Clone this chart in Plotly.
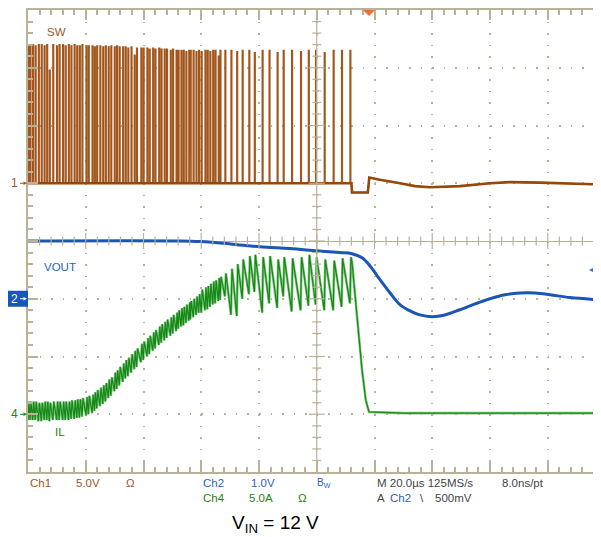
import numpy as np
import plotly.graph_objs as go

# --- scope settings (per division) ---
us_per_div = 20.0
ch1_scale, ch1_pos = 5.0, 1.0     # V/div, marker position in div
ch2_scale, ch2_pos = 1.0, -1.0    # V/div
ch4_scale, ch4_pos = 5.0, -3.0    # A/div
trig_time = 118.1                 # us from left edge
trig_level = 0.5                  # V on Ch2

# --- SW (Ch1) switching pulses, time in us from left edge of screen ---
pulse_t = [0.0, 0.7, 1.6, 2.5, 3.6, 4.6, 5.6, 6.5, 7.4, 8.6,
           9.9, 10.8, 12.0, 12.9, 14.0, 14.9, 16.0, 16.9, 17.8, 18.7,
           20.1, 20.9, 22.2, 23.0, 23.8, 24.9, 25.9, 26.8, 27.8, 28.7,
           29.9, 30.7, 31.6, 32.8, 33.7, 34.6, 35.7, 36.8, 37.6, 39.1,
           39.9, 41.2, 42.0, 43.2, 44.0, 45.3, 46.1, 47.2, 48.0, 49.3,
           50.1, 51.3, 52.0, 53.0, 53.8, 54.7, 55.7, 56.2, 57.2, 58.2,
           59.1, 60.0, 61.3, 62.1, 63.0, 64.0, 64.8, 65.9, 66.5, 68.2,
           70.3, 72.3, 74.2, 76.5, 78.4, 81.1, 83.5, 86.3, 88.4, 91.3,
           94.4, 97.1, 99.6, 102.6, 105.7, 108.6, 111.5]
sw_top = [12.0, 12.0, 12.0, 11.9, 12.0, 12.0, 11.9, 12.0, 9.8, 12.0,
          11.9, 12.0, 12.0, 11.9, 12.0, 11.9, 12.0, 11.9, 11.9, 12.0,
          11.9, 11.9, 11.9, 11.8, 11.9, 11.9, 11.8, 11.9, 11.8, 11.9,
          11.8, 11.9, 11.8, 11.8, 11.8, 11.7, 11.8, 11.1, 11.7, 11.7,
          11.7, 11.7, 11.6, 11.7, 11.6, 11.7, 11.6, 11.6, 11.6, 11.5,
          11.6, 11.5, 11.5, 11.5, 11.5, 11.4, 11.5, 11.5, 11.5, 11.4,
          11.5, 11.4, 11.5, 11.5, 11.4, 11.5, 11.5, 11.0, 11.5, 11.5,
          11.5, 11.4, 11.5, 11.5, 11.3, 11.5, 11.5, 11.3, 11.5, 11.5,
          11.4, 11.5, 11.5, 11.3, 11.5, 11.5, 11.5]
pulse_w = 0.3
sw_tail_t = [112.0, 112.2, 117.7, 118.2, 121.9, 128.8, 134.0, 139.2, 149.6, 160.0, 166.9, 177.3, 187.7, 198.4]
sw_tail_v = [0.0, -0.8, -0.8, 0.5, 0.3, 0.0, -0.25, -0.35, -0.25, 0.0, 0.1, 0.05, -0.05, -0.1]

# --- IL (Ch4), A: valley just before each pulse and peak just after ---
il_valley = [-0.5, -0.5, -0.5, -0.5, -0.6, -0.6, -0.5, -0.5, -0.6, -0.5,
             -0.5, -0.5, -0.5, -0.5, -0.5, -0.4, -0.4, -0.3, -0.3, -0.2,
             -0.1, 0.0, 0.1, 0.3, 0.5, 0.7, 0.9, 1.1, 1.4, 1.6,
             2.0, 2.2, 2.5, 2.8, 3.1, 3.3, 3.6, 3.9, 4.1, 4.5,
             4.7, 5.0, 5.2, 5.5, 5.7, 6.0, 6.2, 6.4, 6.6, 6.8,
             7.0, 7.2, 7.4, 7.6, 7.7, 7.9, 8.1, 8.2, 8.4, 8.6,
             8.8, 8.8, 9.0, 9.1, 9.3, 9.5, 9.6, 9.8, 9.9, 10.2,
             8.6, 8.5, 10.0, 10.4, 10.6, 8.8, 9.6, 9.2, 10.2, 8.9,
             9.0, 9.4, 9.5, 9.0, 9.0, 9.3, 9.6]
il_peak = [1.1, 1.1, 1.1, 1.1, 1.0, 1.0, 1.1, 1.1, 1.0, 1.1,
           1.1, 1.1, 1.1, 1.1, 1.1, 1.2, 1.2, 1.3, 1.3, 1.4,
           1.5, 1.6, 1.7, 1.9, 2.1, 2.3, 2.5, 2.7, 3.0, 3.2,
           3.6, 3.8, 4.1, 4.4, 4.7, 4.9, 5.2, 5.5, 5.7, 6.1,
           6.3, 6.6, 6.8, 7.1, 7.3, 7.6, 7.8, 8.0, 8.2, 8.4,
           8.6, 8.8, 9.0, 9.2, 9.3, 9.5, 9.7, 9.8, 10.0, 10.2,
           10.4, 10.8, 11.0, 11.1, 11.3, 11.5, 11.6, 11.8, 11.9, 12.2,
           12.6, 13.0, 13.4, 13.7, 13.8, 13.6, 13.7, 13.4, 13.6, 13.5,
           13.6, 13.8, 13.6, 13.4, 13.3, 13.5, 13.6]
il_rise = 0.35
il_tail_t = [112.2, 113.2, 114.3, 115.7, 117.0, 118.1, 130.0, 198.4]
il_tail_v = [13.2, 10.3, 7.3, 3.8, 1.2, 0.2, 0.1, 0.1]

# --- VOUT (Ch2), V relative to its marker ---
vout_t = [0.0, 52.6, 59.6, 70.0, 80.4, 90.7, 100.1, 108.0, 112.2, 115.7,
          118.4, 121.9, 125.4, 128.8, 132.3, 135.7, 139.9, 144.4, 149.6, 154.8,
          160.0, 165.2, 170.4, 175.6, 180.8, 187.7, 198.4]
vout_v = [1.00, 1.00, 0.99, 0.95, 0.90, 0.87, 0.83, 0.80, 0.78, 0.71,
          0.57, 0.33, 0.10, -0.10, -0.21, -0.28, -0.31, -0.28, -0.19, -0.09,
          0.00, 0.07, 0.10, 0.10, 0.07, 0.02, -0.02]

# colours
C_SW = "#a2561b"
C_SW_DARK = "#96480a"
C_V = "#1b55b6"
C_V_TXT = "#2a62c0"
C_IL = "#168816"
C_IL_LIGHT = "#86c886"
C_GRID = "#b8b398"
C_TXT = "#454545"

# build waveforms in screen divisions
sw_t, sw_v = [], []
for t, top in zip(pulse_t, sw_top):
    sw_t += [t, t, t + pulse_w, t + pulse_w]
    sw_v += [0.0, top, top, 0.0]
sw_t += sw_tail_t
sw_v += sw_tail_v
sw_div = ch1_pos + np.array(sw_v) / ch1_scale
sw_low_div = ch1_pos + np.array([0.0] + sw_tail_v) / ch1_scale

il_t, il_v = [], []
for t, lo, hi in zip(pulse_t, il_valley, il_peak):
    il_t += [t, t + il_rise]
    il_v += [lo, hi]
il_t += il_tail_t
il_v += il_tail_v
il_div = ch4_pos + np.array(il_v) / ch4_scale

vout_div = ch2_pos + np.array(vout_v) / ch2_scale

fig = go.Figure()
fig.add_trace(go.Scatter(x=sw_t, y=sw_div, mode='lines',
                         line=dict(color=C_SW, width=1.3)))
fig.add_trace(go.Scatter(x=[0.0] + sw_tail_t, y=sw_low_div, mode='lines',
                         line=dict(color=C_SW_DARK, width=2.6)))
fig.add_trace(go.Scatter(x=il_t, y=il_div, mode='lines',
                         line=dict(color=C_IL_LIGHT, width=2.6)))
fig.add_trace(go.Scatter(x=il_t, y=il_div, mode='lines',
                         line=dict(color=C_IL, width=1.2)))
fig.add_trace(go.Scatter(x=vout_t, y=vout_div, mode='lines', line_shape='spline',
                         line=dict(color=C_V, width=3)))

px_per_us = 57.75 / us_per_div
x_end = 573 / px_per_us


# screen pixel -> paper coordinates (plot area spans x 28..601, y 10..472 on screen)
def px(x):
    return (x - 28) / 573


def py(y):
    return (472 - y) / 462


# graticule: center cross with ticks
shapes = [dict(type='line', xref='x', yref='y', x0=5 * us_per_div, x1=5 * us_per_div,
               y0=-4, y1=4, line=dict(color=C_GRID, width=1.2))]
for k in range(1, 50):
    tx = k * us_per_div / 5
    h = 8 if k % 5 == 0 else 4.5
    shapes.append(dict(type='line', xref='x', yref='y', x0=tx, x1=tx,
                       y0=-h / 57.75, y1=h / 57.75, line=dict(color=C_GRID, width=1.2)))
for k in range(-19, 20):
    ty = k / 5
    h = 8 if k % 5 == 0 else 4.5
    shapes.append(dict(type='line', xref='x', yref='y', x0=5 * us_per_div - h / px_per_us,
                       x1=5 * us_per_div + h / px_per_us, y0=ty, y1=ty,
                       line=dict(color=C_GRID, width=1.2)))
# right border major ticks (border itself is just off screen)
for k in range(-3, 4):
    shapes.append(dict(type='line', xref='paper', yref='y', x0=px(594), x1=1,
                       y0=k, y1=k, line=dict(color=C_GRID, width=1.5)))
# trigger position marker
shapes.append(dict(type='path', xref='x', yref='y', xsizemode='pixel', ysizemode='pixel',
                   xanchor=trig_time, yanchor=4, path='M -6,0 L 6,0 L 0,-6 Z',
                   fillcolor='#f36b2a', line=dict(color='#f36b2a', width=0)))
# Ch2 marker box
shapes.append(dict(type='rect', xref='paper', yref='y', x0=px(8), x1=px(28),
                   y0=ch2_pos - 8 / 57.75, y1=ch2_pos + 8 / 57.75,
                   fillcolor="#1a55b8", line=dict(width=0), layer='above'))

FONT = "Liberation Sans, Arial, sans-serif"
ann = []


def label(text, x, y, color, size=11.5, xanchor='left'):
    ann.append(dict(text=text, xref='paper', yref='paper', x=px(x), y=py(y),
                    xanchor=xanchor, yanchor='middle', showarrow=False,
                    font=dict(family=FONT, size=size, color=color)))


def marker(text, ypos, color):
    # channel ground marker: number with a small arrow pointing at the left edge
    ann.append(dict(text=text, xref='paper', yref='y', x=px(27), y=ypos,
                    showarrow=True, ax=-13, ay=0, standoff=0, startstandoff=1,
                    arrowhead=2, arrowsize=0.7, arrowwidth=1, arrowcolor=color,
                    font=dict(family=FONT, size=12, color=color)))


label("SW", 45, 32, C_SW)
label("VOUT", 42, 267, C_V_TXT)
label("IL", 53, 432, C_IL)
marker("1", ch1_pos, C_SW)
marker("4", ch4_pos, C_IL)
marker("2", ch2_pos, "white")
# trigger level arrow on the right
ann.append(dict(text="", xref='paper', yref='y', x=px(589), y=ch2_pos + trig_level / ch2_scale,
                showarrow=True, ax=11, ay=0, standoff=0, arrowhead=2, arrowsize=0.8,
                arrowwidth=1.5, arrowcolor="#3274d8"))

# readout rows
label("Ch1", 28, 483, C_SW)
label("5.0V", 74, 483, C_SW)
label("Ω", 124, 483, C_SW)
label("Ch2", 201, 483, C_V_TXT)
label("1.0V", 249, 483, C_V_TXT)
label("B<sub>W</sub>", 315, 483, C_V_TXT, 10)
label("M 20.0µs 125MS/s", 375, 483, C_TXT)
label("8.0ns/pt", 500, 483, C_TXT)
label("Ch4", 201, 498, C_IL)
label("5.0A", 247, 498, C_IL)
label("Ω", 296, 498, C_IL)
label("A", 375, 498, C_TXT)
label("Ch2", 388, 498, C_V_TXT)
label("\\", 418, 498, C_TXT)
label("500mV", 433, 498, C_TXT)
label("V<sub>IN</sub> = 12 V", 230, 524, "black", 19)

# the page body adds an 8 px margin, so the figure is 8 px smaller on each axis
fig.update_layout(
    width=593, height=529, autosize=False,
    margin=dict(l=20, r=0, t=2, b=65),
    paper_bgcolor='white', plot_bgcolor='white',
    showlegend=False,
    shapes=shapes, annotations=ann,
    xaxis=dict(range=[0, x_end], dtick=us_per_div, tick0=0, showticklabels=False,
               showgrid=True, gridcolor=C_GRID, gridwidth=1.5, griddash='1.5px,10.05px',
               zeroline=False, showline=True, linecolor=C_GRID, linewidth=2, mirror='ticks',
               ticks='inside', ticklen=10, tickcolor=C_GRID, tickwidth=1.5,
               minor=dict(dtick=us_per_div / 5, ticks='inside', ticklen=5,
                          tickcolor=C_GRID, tickwidth=1.5, showgrid=False)),
    yaxis=dict(range=[-4, 4], dtick=1, tick0=0, showticklabels=False,
               showgrid=True, gridcolor=C_GRID, gridwidth=1.5, griddash='1.5px,10.05px',
               zeroline=True, zerolinecolor=C_GRID, zerolinewidth=1.2,
               showline=True, linecolor=C_GRID, linewidth=2, mirror=False,
               ticks='inside', ticklen=10, tickcolor=C_GRID, tickwidth=1.5,
               minor=dict(dtick=0.2, ticks='inside', ticklen=5,
                          tickcolor=C_GRID, tickwidth=1.5, showgrid=False)),
)

fig.write_html("out.html")
